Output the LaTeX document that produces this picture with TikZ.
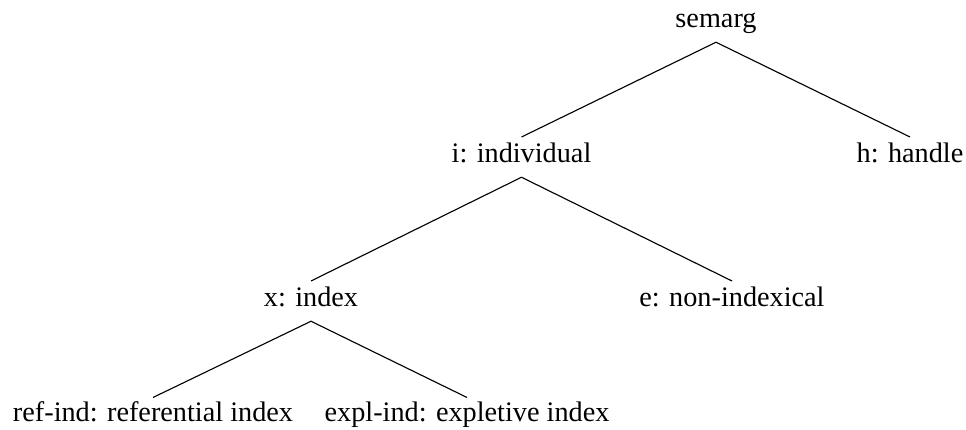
\documentclass[tikz,border=0pt]{standalone}
\usepackage{fontspec}
\setmainfont{Liberation Serif}
\usepackage{tikz}
\usetikzlibrary{positioning}

\tikzset{
  sortnode/.style={font=\fontsize{11.3}{13}\selectfont, anchor=base,
    inner sep=0pt, text height=10.2pt, text depth=5.5pt},
  leafnode/.style={sortnode, text height=9.6pt},
  branch/.style={line width=0.45pt, black}
}

\begin{document}
\begin{tikzpicture}[x=0.4pt,y=-0.4pt]
\useasboundingbox (0,0) rectangle (966,430);

\node[sortnode] (semarg) at (716,28) {semarg};

\node[sortnode] (indiv)  at (521.5,163) {i: individual};
\node[sortnode] (handle) at (910,163)   {h: handle};

\node[sortnode] (index)  at (311,307) {x: index};
\node[sortnode] (nonidx) at (732,307) {e: non-indexical};

\node[leafnode] (refind)  at (153,422) {ref-ind: referential index};
\node[leafnode] (explind) at (467,422) {expl-ind: expletive index};

\draw[branch] (semarg.south) -- (indiv.north);
\draw[branch] (semarg.south) -- (handle.north);
\draw[branch] (indiv.south)  -- (index.north);
\draw[branch] (indiv.south)  -- (nonidx.north);
\draw[branch] (index.south)  -- (refind.north);
\draw[branch] (index.south)  -- (explind.north);
\end{tikzpicture}
\end{document}
